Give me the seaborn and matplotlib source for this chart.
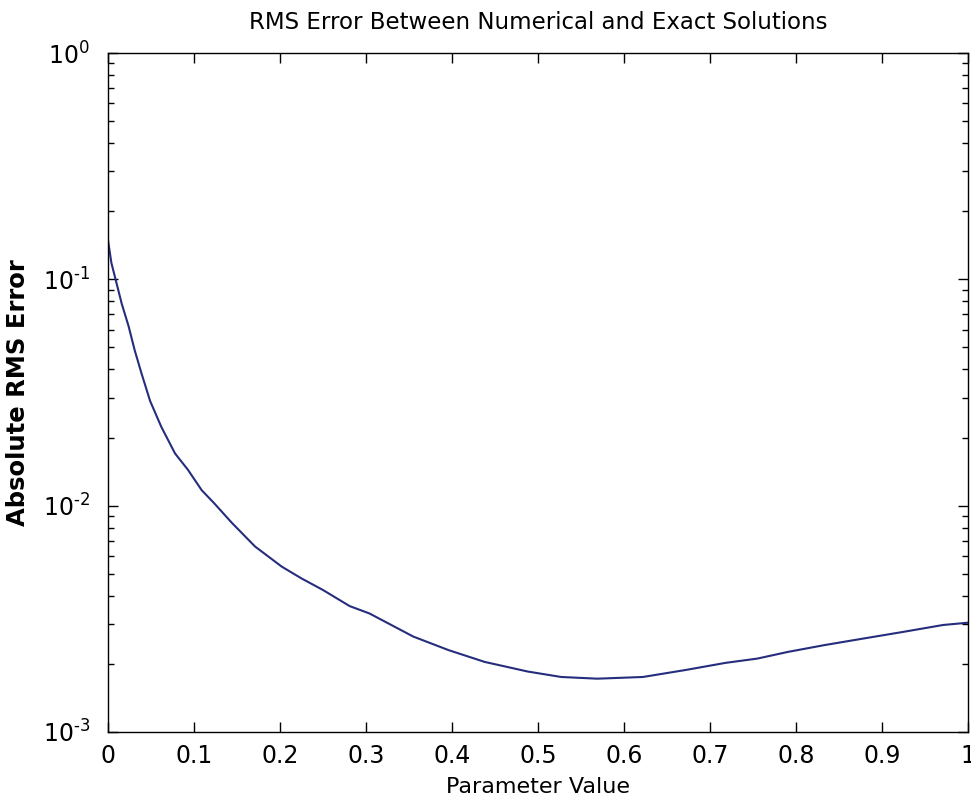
import numpy as np
import pandas as pd
import matplotlib
matplotlib.use("Agg")
import matplotlib.pyplot as plt
import seaborn as sns
from matplotlib.ticker import LogLocator, FixedLocator, FixedFormatter, FuncFormatter

param = [0.000, 0.004, 0.010, 0.016, 0.024, 0.031, 0.039, 0.049, 0.062, 0.078,
         0.093, 0.109, 0.124, 0.144, 0.171, 0.202, 0.225, 0.250, 0.281, 0.304,
         0.355, 0.396, 0.438, 0.488, 0.527, 0.569, 0.622, 0.672, 0.718, 0.755,
         0.791, 0.833, 0.879, 0.925, 0.971, 1.000]
rms_err = [0.149, 0.118, 0.096, 0.078, 0.062, 0.0487, 0.0384, 0.0290, 0.0223, 0.0170,
           0.0144, 0.0117, 0.0102, 0.0084, 0.0066, 0.00538, 0.00477, 0.00424, 0.0036, 0.00334,
           0.00264, 0.0023, 0.00204, 0.00185, 0.00175, 0.00172, 0.00175, 0.00188, 0.00202, 0.00211,
           0.00226, 0.00242, 0.00259, 0.00277, 0.00297, 0.00304]
xticks = [0, 0.1, 0.2, 0.3, 0.4, 0.5, 0.6, 0.7, 0.8, 0.9, 1]
xticklabels = ["0", "0.1", "0.2", "0.3", "0.4", "0.5", "0.6", "0.7", "0.8", "0.9", "1"]

sns.set_style("ticks")
plt.rcParams['font.family'] = ['DejaVu Sans']
plt.rcParams['mathtext.fontset'] = 'dejavusans'
plt.rcParams['text.color'] = 'black'
plt.rcParams['axes.labelcolor'] = 'black'
plt.rcParams['xtick.color'] = 'black'
plt.rcParams['ytick.color'] = 'black'

df = pd.DataFrame({"Parameter Value": param, "Absolute RMS Error": rms_err})

fig = plt.figure(figsize=(9.71, 8.02), dpi=100)
ax = fig.add_axes([0.1112, 0.0873, 0.8857, 0.8466])
sns.lineplot(data=df, x="Parameter Value", y="Absolute RMS Error", ax=ax,
             color="#252d7c", linewidth=1.5)
ax.set_yscale("log")
ax.set_xlim(0, 1)
ax.set_ylim(1e-3, 1)
ax.xaxis.set_major_locator(FixedLocator(xticks))
ax.xaxis.set_major_formatter(FixedFormatter(xticklabels))
ax.yaxis.set_major_locator(LogLocator(base=10, numticks=10))
ax.yaxis.set_minor_locator(LogLocator(base=10, subs=np.arange(2, 10), numticks=20))


def fmt(v, pos):
    e = int(round(np.log10(v)))
    if e < 0:
        return r"$10^{\text{-}%d}$" % (-e)
    return r"$10^{%d}$" % e


ax.yaxis.set_major_formatter(FuncFormatter(fmt))
ax.tick_params(which="both", direction="in", top=True, right=True, colors="black")
ax.tick_params(which="major", length=7, width=1, labelsize=17)
ax.tick_params(axis="x", pad=9)
ax.tick_params(axis="y", pad=13)
ax.tick_params(which="minor", length=4, width=1)
for s in ax.spines.values():
    s.set_linewidth(1.0)
    s.set_color("black")
ax.set_title("RMS Error Between Numerical and Exact Solutions", fontsize=16.5, pad=17,
             color="black")
ax.set_xlabel("Parameter Value", fontsize=16, labelpad=6, color="black")
ax.set_ylabel("Absolute RMS Error", fontsize=17.5, fontweight="bold", labelpad=9,
              color="black")
fig.savefig("out.png", dpi=100)
